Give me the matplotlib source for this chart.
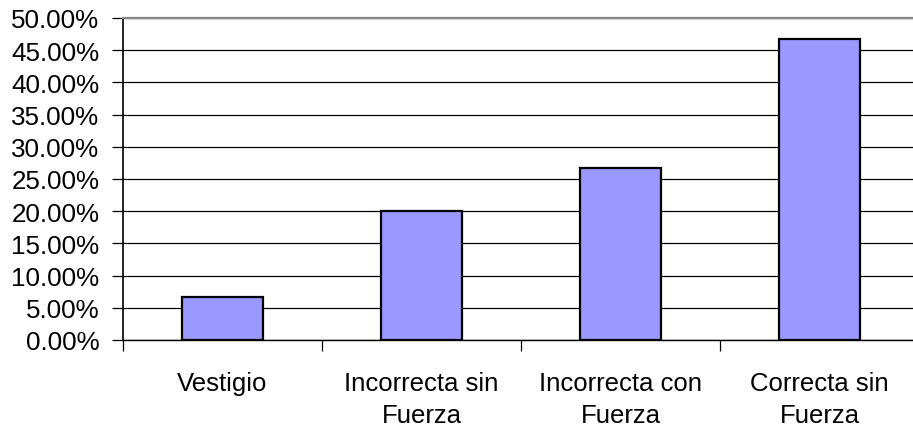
import matplotlib
matplotlib.use("Agg")
import matplotlib.pyplot as plt
from matplotlib.ticker import FuncFormatter, FixedLocator

categories = ["Vestigio", "Incorrecta sin\nFuerza", "Incorrecta con\nFuerza", "Correcta sin\nFuerza"]
shares = [6.67, 20.0, 26.67, 46.67]  # percent
y_ticks = [0, 5, 10, 15, 20, 25, 30, 35, 40, 45, 50]

plt.rcParams['font.family'] = ['Liberation Sans', 'DejaVu Sans']

W, H, DPI = 913, 431, 100
fig = plt.figure(figsize=(W / DPI, H / DPI), dpi=DPI)
left, right, top, bottom = 123, 913, 19, 341
ax = fig.add_axes([left / W, 1 - bottom / H, (right - left) / W, (bottom - top) / H])

slot = 199.0
x = list(range(len(categories)))
ax.bar(x, shares, width=0.41, color="#9999FF", edgecolor="black", linewidth=1.6, zorder=3)

ax.set_xlim(-0.5, -0.5 + (right - left) / slot)
ax.set_ylim(0, 50)
ax.set_yticks(y_ticks)
ax.yaxis.set_major_formatter(FuncFormatter(lambda v, p: f"{v:.2f}%"))
ax.grid(axis="y", color="black", linewidth=0.9, zorder=0)
ax.set_axisbelow(True)

ax.set_xticks(x)
ax.set_xticklabels(categories, linespacing=1.45)
ax.xaxis.set_minor_locator(FixedLocator([i + 0.5 for i in range(-1, len(categories))]))
ax.tick_params(axis="x", which="major", length=0, pad=22, labelsize=18.5)
ax.tick_params(axis="x", which="minor", length=8, width=0.9, color="black")
ax.tick_params(axis="y", length=8, width=0.9, labelsize=18.7, pad=9)

ax.spines["right"].set_visible(False)
ax.spines["top"].set_color("#888888")
ax.spines["top"].set_linewidth(1.6)
ax.spines["left"].set_linewidth(1.2)
ax.spines["bottom"].set_linewidth(1.0)

fig.savefig("out.png", dpi=DPI)
